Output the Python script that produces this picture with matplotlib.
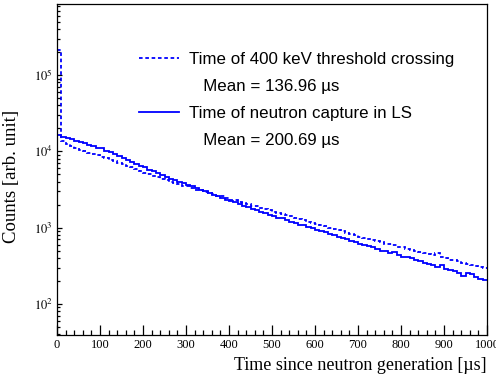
import numpy as np
import matplotlib.pyplot as plt
from matplotlib.lines import Line2D
from matplotlib.ticker import LogLocator, MultipleLocator, FuncFormatter

plt.rcParams['mathtext.fontset'] = 'stix'

# bin edges in microseconds (10 us bins)
edges = np.arange(0, 1001, 10)

# time of 400 keV threshold crossing (dashed)
threshold_counts = [
    214000, 13500, 12600, 11700, 11000, 10500, 10000, 9550, 9330, 8910,
    8510, 8130, 7760, 7410, 7080, 6760, 6460, 6170, 5890, 5500,
    5250, 5010, 4790, 4570, 4370, 4170, 3980, 3890, 3720, 3550,
    3470, 3310, 3160, 3090, 2950, 2880, 2750, 2630, 2570, 2450,
    2340, 2290, 2190, 2090, 2040, 1950, 1910, 1820, 1740, 1700,
    1620, 1550, 1510, 1450, 1410, 1350, 1290, 1260, 1200, 1150,
    1120, 1070, 1050, 1000, 955, 933, 891, 851, 832, 794,
    759, 741, 708, 692, 661, 646, 617, 603, 589, 562,
    550, 525, 513, 501, 479, 468, 447, 437, 460, 407,
    398, 380, 372, 363, 347, 339, 324, 316, 309, 295,
]

# time of neutron capture in LS (solid)
capture_counts = [
    16200, 15500, 15100, 14500, 13800, 13200, 12900, 12300, 11700, 11200,
    11000, 10200, 9770, 9120, 8710, 8130, 7760, 7240, 6920, 6460,
    6170, 5750, 5500, 5130, 4900, 4570, 4370, 4170, 3980, 3800,
    3630, 3470, 3310, 3160, 3020, 2880, 2690, 2570, 2450, 2340,
    2240, 2140, 2040, 1950, 1860, 1780, 1700, 1620, 1550, 1480,
    1410, 1350, 1320, 1260, 1200, 1150, 1100, 1070, 1020, 977,
    933, 891, 871, 832, 794, 759, 724, 708, 676, 646,
    617, 589, 575, 550, 525, 501, 490, 468, 480, 437,
    417, 407, 400, 380, 363, 347, 339, 324, 309, 320,
    288, 275, 269, 257, 235, 255, 250, 225, 214, 204,
]

legend_labels = ['Time of 400 keV threshold crossing', '   Mean = 136.96 \u00b5s',
                 'Time of neutron capture in LS', '   Mean = 200.69 \u00b5s']

fig = plt.figure(figsize=(4.96, 3.8), dpi=100)
ax = fig.add_axes([0.115, 0.118, 0.867, 0.871])

ax.stairs(threshold_counts, edges, color='blue', lw=1.3, linestyle=(0, (2, 1.5)),
          baseline=None)
ax.stairs(capture_counts, edges, color='blue', lw=1.3, baseline=None)

ax.set_yscale('log')
ax.set_xlim(0, 1000)
ax.set_ylim(39, 8.5e5)

ax.xaxis.set_major_locator(MultipleLocator(100))
ax.xaxis.set_minor_locator(MultipleLocator(20))
ax.yaxis.set_major_locator(LogLocator(base=10, numticks=10))
ax.yaxis.set_minor_locator(LogLocator(base=10, subs=np.arange(2, 10), numticks=10))
ax.yaxis.set_major_formatter(FuncFormatter(lambda v, p: r'$10^{%d}$' % round(np.log10(v))))

ax.tick_params(axis='x', which='major', direction='in', length=7, width=0.9,
               top=False, labelsize=9, pad=3)
ax.tick_params(axis='x', which='minor', direction='in', length=3.5, width=0.9, top=False)
ax.tick_params(axis='y', which='major', direction='in', length=3.5, width=0.9,
               right=False, labelsize=9, pad=3)
ax.tick_params(axis='y', which='minor', direction='in', length=2, width=0.9, right=False)
for lab in ax.get_xticklabels():
    lab.set_fontfamily('Liberation Serif')

for s in ax.spines.values():
    s.set_linewidth(0.9)

ax.set_xlabel('Time since neutron generation [\u00b5s]', family='Liberation Serif',
              fontsize=13, loc='right', labelpad=4)
ax.set_ylabel('Counts [arb. unit]', family='Liberation Serif', fontsize=13.5, labelpad=1)
ax.yaxis.set_label_coords(-0.085, 0.48)

handles = [Line2D([], [], color='blue', lw=1.3, linestyle=(0, (2, 1.5))),
           Line2D([], [], linestyle='none'),
           Line2D([], [], color='blue', lw=1.3),
           Line2D([], [], linestyle='none')]
ax.legend(handles, legend_labels, loc='upper left', bbox_to_anchor=(0.19, 0.855),
          frameon=False, prop={'family': 'Liberation Sans', 'size': 12.2},
          handlelength=2.4, handletextpad=0.55, labelspacing=0.7, borderpad=0,
          borderaxespad=0)

fig.savefig('out.png', dpi=100)
